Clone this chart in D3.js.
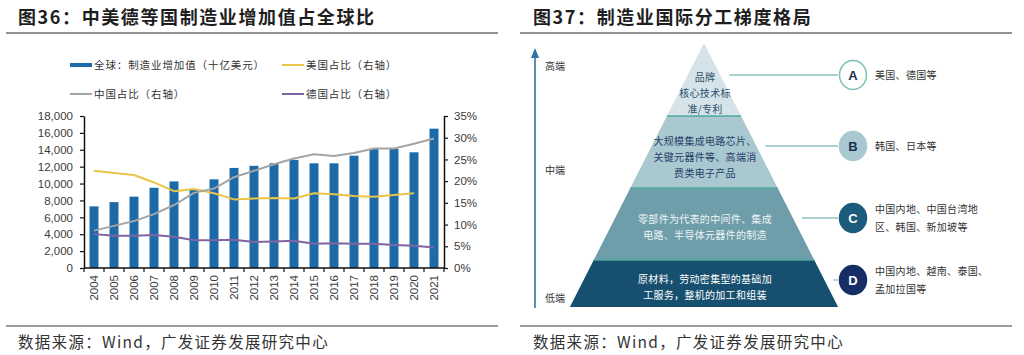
<!DOCTYPE html>
<html><head><meta charset="utf-8">
<script src="https://cdn.jsdelivr.net/npm/d3@7"></script>
<style>
html,body{margin:0;padding:0;background:#fff;}
svg{display:block;}
</style></head>
<body>
<svg id="c" width="1024" height="355"></svg>
<script>
// ---------- data ----------
const years = ["2004","2005","2006","2007","2008","2009","2010","2011","2012","2013","2014","2015","2016","2017","2018","2019","2020","2021"];
const worldMVA = [7300,7800,8450,9500,10250,9350,10500,11850,12100,12400,12800,12400,12400,13300,14100,14100,13700,16500];
const usShare = [0.224,0.219,0.214,0.197,0.177,0.182,0.172,0.158,0.160,0.161,0.160,0.172,0.170,0.166,0.164,0.168,0.172,null];
const cnShare = [0.086,0.097,0.108,0.124,0.145,0.173,0.183,0.209,0.224,0.239,0.252,0.262,0.258,0.265,0.275,0.275,0.286,0.298];
const deShare = [0.078,0.074,0.074,0.076,0.072,0.064,0.064,0.065,0.060,0.061,0.063,0.056,0.057,0.056,0.056,0.053,0.051,0.047];
const leftTicks = [0,2000,4000,6000,8000,10000,12000,14000,16000,18000];
const rightTicks = [0,0.05,0.10,0.15,0.20,0.25,0.30,0.35];
const legendLabels = ["全球：制造业增加值（十亿美元）","美国占比（右轴）","中国占比（右轴）","德国占比（右轴）"];

const title1 = "图36：中美德等国制造业增加值占全球比";
const title2 = "图37：制造业国际分工梯度格局";
const sourceText = "数据来源：Wind，广发证券发展研究中心";

const tierLabels = ["高端","中端","低端"];
const layerTexts = [
  ["品牌","核心技术标","准/专利"],
  ["大规模集成电路芯片、","关键元器件等、高端消","费类电子产品"],
  ["零部件为代表的中间件、集成","电路、半导体元器件的制造"],
  ["原材料，劳动密集型的基础加","工服务，整机的加工和组装"]
];
const layerLetters = ["A","B","C","D"];
const layerCountries = [
  ["美国、德国等"],
  ["韩国、日本等"],
  ["中国内地、中国台湾地","区、韩国、新加坡等"],
  ["中国内地、越南、泰国、","孟加拉国等"]
];

// ---------- drawing ----------
const svg = d3.select("#c");
svg.append("rect").attr("width",1024).attr("height",355).attr("fill","#fff");
const CJK = "'Noto Sans CJK SC','Noto Sans',sans-serif";
const LAT = "'Liberation Sans',Arial,sans-serif";

// headers and footers
function panelFrame(x0,x1,tx,title){
  svg.append("text").attr("x",tx).attr("y",24).text(title)
    .attr("font-family",CJK).attr("font-weight","bold").attr("font-size",18)
    .attr("letter-spacing",1.6).attr("fill","#1e1e1e");
  svg.append("line").attr("x1",x0).attr("x2",x1).attr("y1",33).attr("y2",33)
    .attr("stroke","#6e6e6e").attr("stroke-width",1.5);
  svg.append("line").attr("x1",x0).attr("x2",x1).attr("y1",326).attr("y2",326)
    .attr("stroke","#3a3a3a").attr("stroke-width",1.2);
  svg.append("text").attr("x",tx).attr("y",348).text(sourceText)
    .attr("font-family",CJK).attr("font-size",15.5).attr("letter-spacing",1.3).attr("fill","#333");
}
panelFrame(6,498,18,title1);
panelFrame(520,1012,533,title2);

// ----- left chart -----
const x = d3.scaleBand().domain(years).range([84,444]).paddingInner(0.55).paddingOuter(0.275);
const xb = d3.scaleBand().domain(years).range([84,444]).padding(0);
const yL = d3.scaleLinear().domain([0,18000]).range([268,116]);
const yR = d3.scaleLinear().domain([0,0.35]).range([268,116]);

const colors = {bar:"#1c6aa8", us:"#e9c446", cn:"#a5a5a5", de:"#8064a2"};

const g = svg.append("g");
g.selectAll("rect.bar").data(worldMVA).join("rect").attr("class","bar")
  .attr("x",(d,i)=>x(years[i])).attr("width",x.bandwidth())
  .attr("y",d=>yL(d)).attr("height",d=>yL(0)-yL(d)).attr("fill",colors.bar);

function drawLine(vals,color){
  const line = d3.line().defined(d=>d!=null)
    .x((d,i)=>x(years[i])+x.bandwidth()/2).y(d=>yR(d));
  g.append("path").datum(vals).attr("d",line).attr("fill","none")
    .attr("stroke",color).attr("stroke-width",2).attr("stroke-linejoin","round");
}
drawLine(usShare,colors.us);
drawLine(cnShare,colors.cn);
drawLine(deShare,colors.de);

// axes
const axL = d3.axisLeft(yL).tickValues(leftTicks).tickFormat(d3.format(",")).tickSize(4).tickSizeOuter(0).tickPadding(7);
const axR = d3.axisRight(yR).tickValues(rightTicks).tickFormat(d3.format(".0%")).tickSize(4).tickSizeOuter(0).tickPadding(6);
function styleAxis(sel){
  sel.selectAll("path.domain").attr("stroke","#111").attr("stroke-width",1.5);
  sel.selectAll(".tick line").attr("stroke","#111").attr("stroke-width",1.2);
  sel.selectAll("text").attr("font-family",LAT).attr("font-size",11.5).attr("fill","#3a3a3a");
}
g.append("g").attr("transform","translate(84,0)").call(axL).call(styleAxis);
g.append("g").attr("transform","translate(444,0)").call(axR).call(styleAxis);

// bottom axis
const axB = g.append("g").attr("transform","translate(0,268)");
axB.append("line").attr("x1",84).attr("x2",444).attr("y1",0).attr("y2",0).attr("stroke","#111").attr("stroke-width",1.5);
axB.selectAll("line.bt").data(years.concat(["end"])).join("line").attr("class","bt")
  .attr("x1",(d,i)=>i<years.length?xb(d):xb(years[years.length-1])+xb.bandwidth())
  .attr("x2",(d,i)=>i<years.length?xb(d):xb(years[years.length-1])+xb.bandwidth())
  .attr("y1",0).attr("y2",4).attr("stroke","#111").attr("stroke-width",1.2);
axB.selectAll("text").data(years).join("text")
  .attr("transform",d=>`translate(${x(d)+x.bandwidth()/2+4},7) rotate(-90)`)
  .attr("text-anchor","end").text(d=>d)
  .attr("font-family",LAT).attr("font-size",11.5).attr("fill","#3a3a3a");

// legend
const leg = [
  {t:legendLabels[0],c:colors.bar,x:70,y:65,w:4},
  {t:legendLabels[1],c:colors.us,x:282,y:65,w:2},
  {t:legendLabels[2],c:colors.cn,x:70,y:94,w:2},
  {t:legendLabels[3],c:colors.de,x:282,y:94,w:2}
];
leg.forEach(l=>{
  svg.append("line").attr("x1",l.x).attr("x2",l.x+22).attr("y1",l.y).attr("y2",l.y)
    .attr("stroke",l.c).attr("stroke-width",l.w);
  svg.append("text").attr("x",l.x+24).attr("y",l.y+3.5).text(l.t)
    .attr("font-family",CJK).attr("font-size",10.5).attr("letter-spacing",0.9).attr("fill","#333");
});

// ----- right diagram: pyramid -----
const apexX = 704, apexY = 43, slope = 0.508;
const yBounds = [43,116,188,260,307];
const halfW = y => (y-apexY)*slope;
const fills = ["#d6e4ea","#a9c8cf","#6e9ea9","#17506e"];
const textCols = ["#2d4f6a","#27406a","#eef4f6","#ffffff"];
const circleFill = ["#ffffff","#a9c8cf","#1c5b7c","#172d66"];
const circleText = ["#1c2f50","#1c2f50","#ffffff","#ffffff"];
const rowY = [75,146,218,280];

const pg = svg.append("g");
layerTexts.forEach((lines,i)=>{
  const y0 = yBounds[i], y1 = yBounds[i+1];
  const pts = i===0
    ? [[apexX,y0],[apexX+halfW(y1),y1],[apexX-halfW(y1),y1]]
    : [[apexX-halfW(y0),y0],[apexX+halfW(y0),y0],[apexX+halfW(y1),y1],[apexX-halfW(y1),y1]];
  pg.append("polygon").attr("points",pts.map(p=>p.join(",")).join(" ")).attr("fill",fills[i]);
  if(i>0){
    pg.append("line").attr("x1",apexX-halfW(y0)).attr("x2",apexX+halfW(y0)).attr("y1",y0).attr("y2",y0)
      .attr("stroke","#4fa9a0").attr("stroke-width",1.6);
  }
  const lh = i<2?16:15.5;
  const cy = i===0?93: i===1?157.5: i===2?227.5:287.5;
  lines.forEach((t,k)=>{
    pg.append("text").attr("x",apexX+1).attr("y",cy+(k-(lines.length-1)/2)*lh+3.5)
      .attr("text-anchor","middle").text(t).attr("font-family",CJK).attr("font-size",10)
      .attr("letter-spacing",0.3).attr("fill",textCols[i]);
  });
  // connector + circle + countries
  const ry = rowY[i];
  pg.append("line").attr("x1",apexX+halfW(ry)+9).attr("x2",838).attr("y1",ry).attr("y2",ry)
    .attr("stroke","#a8d3cf").attr("stroke-width",1.8);
  pg.append("ellipse").attr("cx",853).attr("cy",ry).attr("rx",13.5).attr("ry",14.5)
    .attr("fill",circleFill[i]).attr("stroke",i===0?"#7cc1b8":circleFill[i]).attr("stroke-width",1.5);
  pg.append("text").attr("x",853).attr("y",ry+4.5).attr("text-anchor","middle").text(layerLetters[i])
    .attr("font-family",LAT).attr("font-weight","bold").attr("font-size",13).attr("fill",circleText[i]);
  const cl = layerCountries[i];
  cl.forEach((t,k)=>{
    pg.append("text").attr("x",875).attr("y",ry+(k-(cl.length-1)/2)*18+3.5).text(t)
      .attr("font-family",CJK).attr("font-size",10).attr("letter-spacing",0.3).attr("fill","#333");
  });
});

// vertical arrow
const ag = svg.append("g");
ag.append("line").attr("x1",535).attr("x2",535).attr("y1",308).attr("y2",56)
  .attr("stroke","#2f74a0").attr("stroke-width",1.6);
ag.append("path").attr("d","M531,58 L535,48 L539,58 Z").attr("fill","#2f74a0");
const tierY = [66,170,298];
tierLabels.forEach((t,i)=>{
  ag.append("text").attr("x",545).attr("y",tierY[i]+4).text(t)
    .attr("font-family",CJK).attr("font-size",10).attr("fill","#333");
});
</script>
</body></html>
